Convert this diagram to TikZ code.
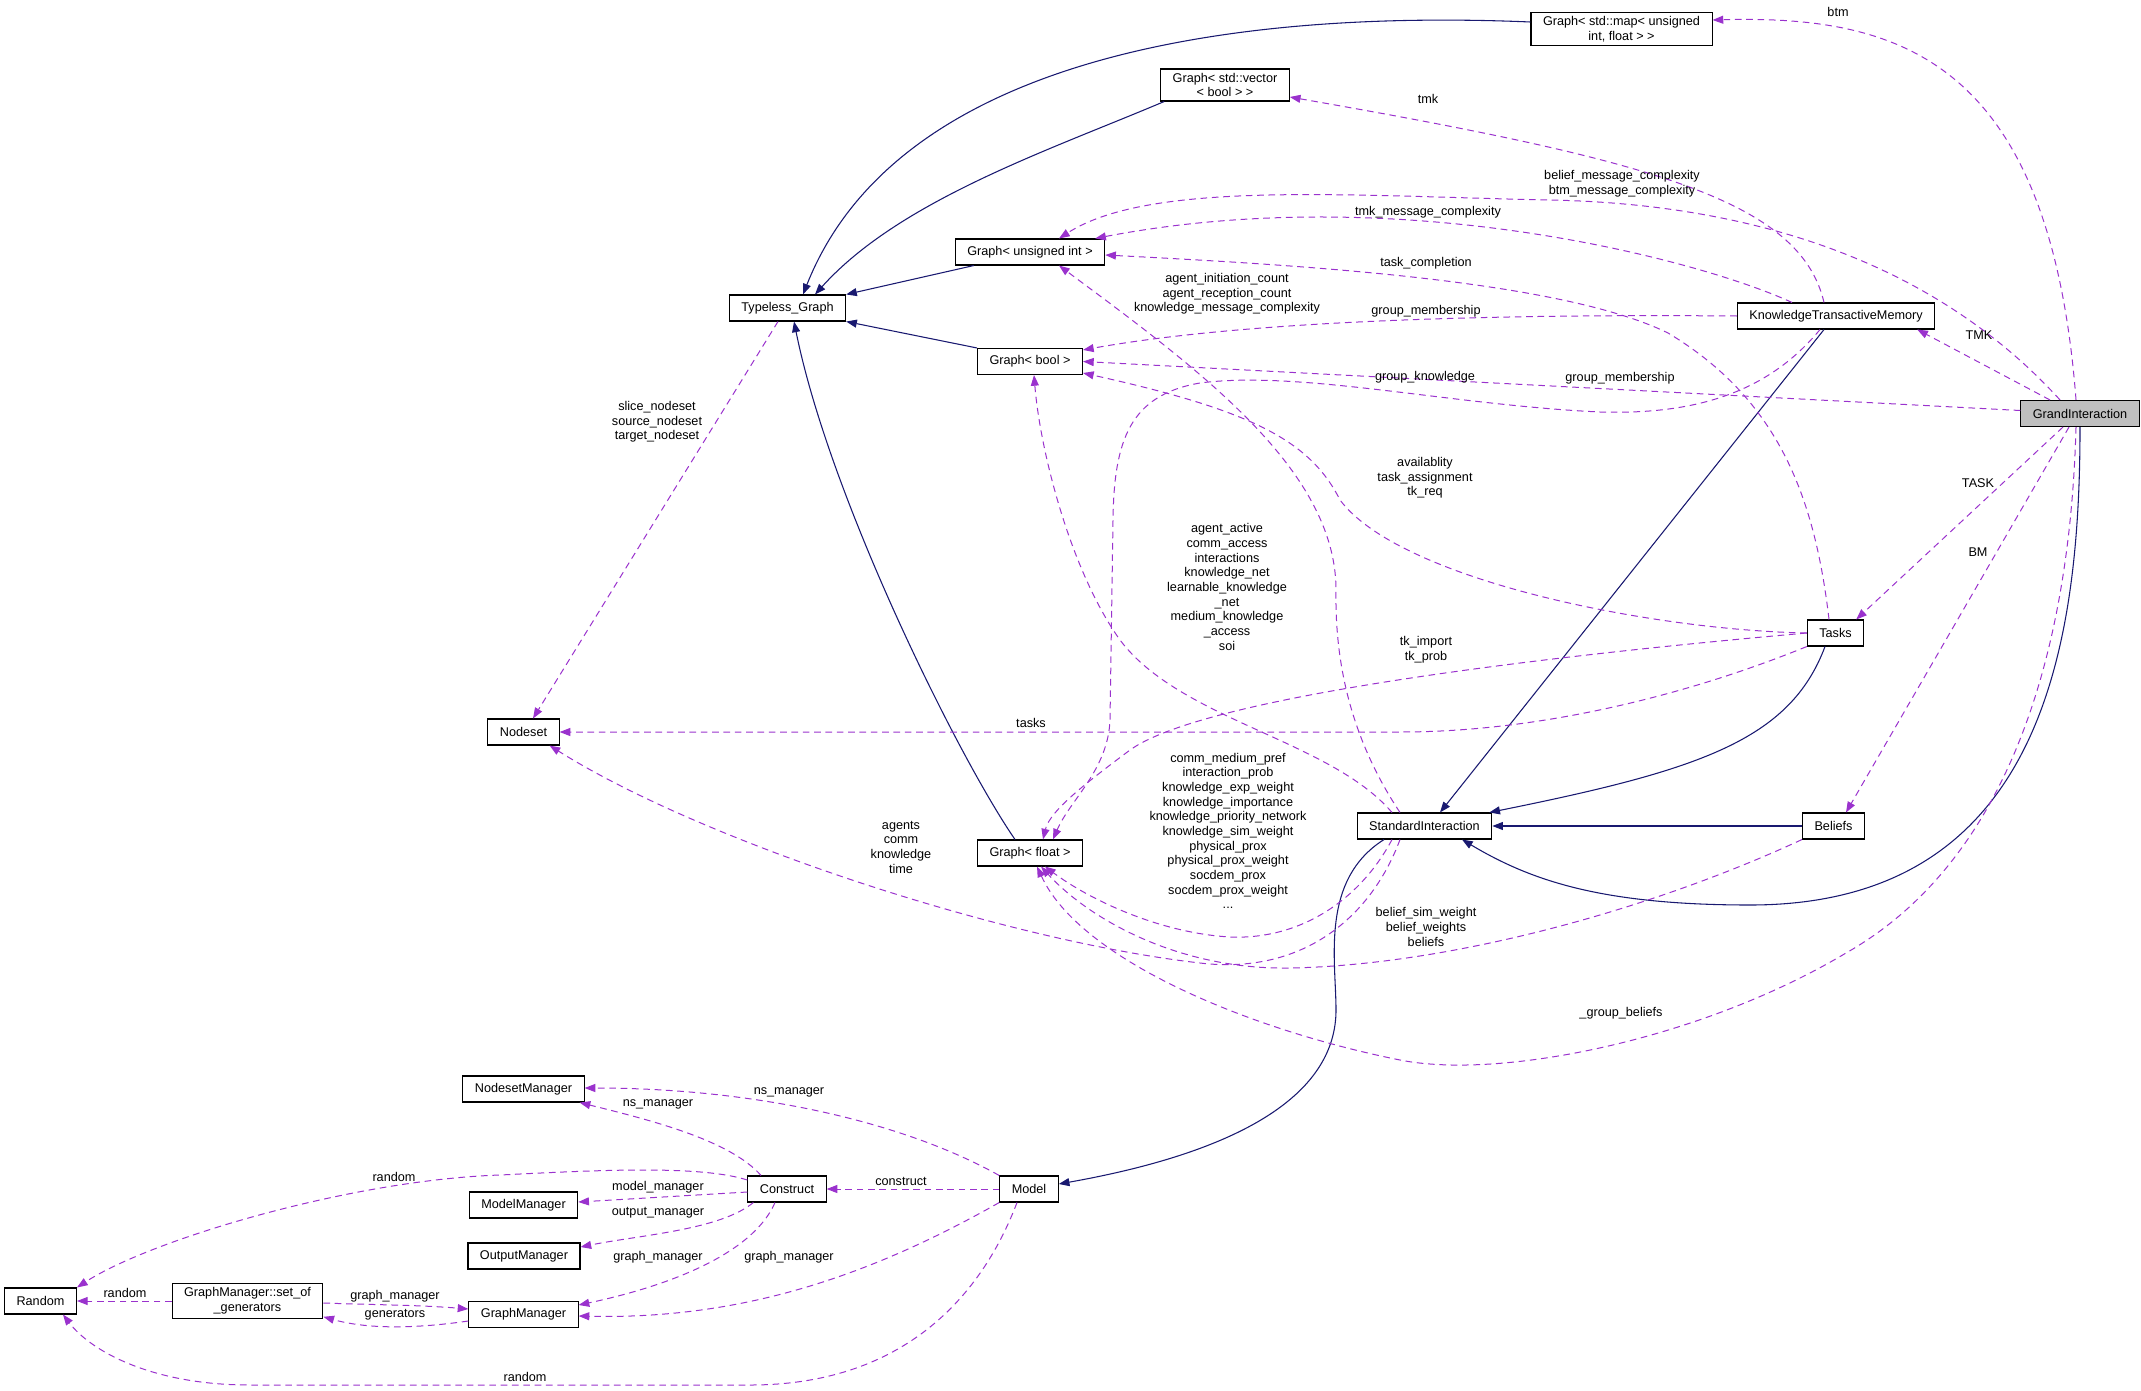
\documentclass[tikz,border=0pt]{standalone}
\usepackage{fontspec}
\setmainfont{Liberation Sans}
\usepackage{tikz}
\usetikzlibrary{arrows.meta}
\usetikzlibrary{calc}
\definecolor{navyedge}{HTML}{191970}
\definecolor{orchidedge}{HTML}{9A32CD}
\tikzset{
    cls/.style={draw=black, line width=0.8pt, fill=white, inner xsep=9pt, inner ysep=3pt, minimum height=19.5pt, align=center, font=\fontsize{9.5}{11}\selectfont},
    lbl/.style={inner sep=0pt, align=center, font=\fontsize{9.5}{11}\selectfont},
    inherit/.style={-{Triangle[length=8pt,width=6pt]}, color=navyedge, line width=0.8pt},
    member/.style={-{Triangle[length=8pt,width=6pt]}, color=orchidedge, line width=0.75pt, dash pattern=on 5pt off 3.5pt}
}

\begin{document}
\begin{tikzpicture}[x=0.75pt, y=-0.75pt]
    \useasboundingbox (0,0) rectangle (2141,1391);

    \node[cls] (gmap) at (1621.5,29) {Graph< std::map< unsigned\\int, float > >};
    \node[cls] (gvecbool) at (1225,85) {Graph< std::vector\\< bool > >};
    \node[cls] (guint) at (1030,252) {Graph< unsigned int >};
    \node[cls] (typeless) at (787.5,308) {Typeless\_Graph};
    \node[cls] (gbool) at (1030,361.5) {Graph< bool >};
    \node[cls] (ktm) at (1836,316) {KnowledgeTransactiveMemory};
    \node[cls, fill=black!25] (grand) at (2080,413.5) {GrandInteraction};
    \node[cls] (tasks) at (1835.5,633) {Tasks};
    \node[cls] (nodeset) at (523.5,732) {Nodeset};
    \node[cls] (gfloat) at (1030,853) {Graph< float >};
    \node[cls] (stdint) at (1424.5,826) {StandardInteraction};
    \node[cls] (beliefs) at (1833.5,826) {Beliefs};

    \node[cls] (nsmgr) at (523.5,1089) {NodesetManager};
    \node[cls] (modelmgr) at (523.5,1205) {ModelManager};
    \node[cls] (outmgr) at (524,1256) {OutputManager};
    \node[cls] (graphmgr) at (523.5,1314.5) {GraphManager};
    \node[cls] (construct) at (787,1189) {Construct};
    \node[cls] (model) at (1029,1189) {Model};
    \node[cls] (random) at (40.5,1301) {Random};
    \node[cls] (setgen) at (247.5,1301) {GraphManager::set\_of\\\_generators};

    \draw[inherit] ($(gmap.west)+(0,-7)$) .. controls (1250,10) and (900,50) .. ($(typeless.north)+(15.5,0)$);
    \draw[inherit] ($(gvecbool.south west)+(4,0)$) .. controls (1050,150) and (900,200) .. ($(typeless.north)+(27.5,0)$);
    \path[inherit] ($(guint.south west)+(19,0)$) edge (typeless.north east);
    \path[inherit] (gbool.north west) edge (typeless.south east);
    \draw[inherit] ($(gfloat.north)+(-15,0)$) .. controls (960,760) and (830,500) .. ($(typeless.south)+(6.5,0)$);
    \path[inherit] ($(ktm.south)+(-12,0)$) edge ($(stdint.north)+(15.5,0)$);
    \draw[inherit] ($(tasks.south)+(-10.5,0)$) .. controls (1790,740) and (1700,770) .. ($(stdint.north east)+(-3,0)$);
    \path[inherit] (beliefs) edge (stdint);
    \draw[inherit] (grand.south) .. controls (2080,650) and (2040,905) .. (1750,905) .. controls (1600,905) and (1530,880) .. ($(stdint.south)+(37.5,0)$);
    \draw[inherit] ($(stdint.south)+(-40.5,0)$) .. controls (1320,880) and (1336,960) .. (1336,1010) .. controls (1336,1090) and (1250,1150) .. ($(model.east)+(0,-5)$);

    \draw[member] ($(grand.north)+(-4,0)$) .. controls (2050,60) and (1900,15) .. ($(gmap.east)+(0,-9)$);
    \draw[member] ($(ktm.north)+(-12,0)$) .. controls (1800,200) and (1650,160) .. ($(gvecbool.east)+(0,12)$);
    \draw[member] ($(grand.north)+(-20,0)$) .. controls (1960,290) and (1800,205) .. (1550,200) .. controls (1350,196) and (1150,180) .. ($(guint.north)+(29,0)$);
    \draw[member] ($(ktm.north)+(-44,0)$) .. controls (1700,260) and (1400,180) .. ($(guint.north east)+(-10,0)$);
    \draw[member] ($(tasks.north)+(-6.5,0)$) .. controls (1815,500) and (1780,400) .. (1668,333) .. controls (1560,280) and (1300,265) .. ($(guint.east)+(0,3)$);
    \draw[member] ($(stdint.north)+(-24.5,0)$) .. controls (1345,730) and (1335,650) .. (1336,590) .. controls (1336,470) and (1200,370) .. ($(guint.south)+(29,0)$);
    \draw[member] (ktm.west) .. controls (1500,314) and (1250,320) .. ($(gbool.north east)+(0,2)$);
    \path[member] ($(grand.west)+(0,-3)$) edge (gbool.east);
    \draw[member] ($(ktm.south)+(-16,0)$) .. controls (1770,390) and (1700,415) .. (1600,412) .. controls (1450,405) and (1300,370) .. (1200,383) .. controls (1130,395) and (1114,440) .. (1113,520) -- (1110,720) .. controls (1108,770) and (1070,800) .. ($(gfloat.north)+(23,0)$);
    \path[member] ($(grand.north)+(-30,0)$) edge ($(ktm.south east)+(-18,0)$);
    \path[member] ($(grand.south)+(-17,0)$) edge ($(tasks.north east)+(-8,0)$);
    \path[member] ($(grand.south)+(-11,0)$) edge ($(beliefs.north)+(12.5,0)$);
    \draw[member] (tasks.west) .. controls (1650,630) and (1400,580) .. (1340,500) .. controls (1310,440) and (1250,410) .. ($(gbool.east)+(0,11.5)$);
    \draw[member] ($(stdint.north)+(-32.5,0)$) .. controls (1330,740) and (1180,720) .. (1120,640) .. controls (1070,570) and (1040,450) .. ($(gbool.south)+(4,0)$);
    \draw[member] (tasks.west) .. controls (1500,660) and (1200,700) .. (1130,750) .. controls (1090,780) and (1050,810) .. ($(gfloat.north)+(13,0)$);
    \draw[member] (tasks.south west) .. controls (1700,690) and (1550,732) .. (1400,732) -- (nodeset.east);
    \path[member] ($(typeless.south)+(-9.5,0)$) edge ($(nodeset.north)+(9.5,0)$);
    \draw[member] ($(stdint.south)+(-24.5,0)$) .. controls (1370,920) and (1300,975) .. (1200,963) .. controls (1000,940) and (700,840) .. ($(nodeset.south east)+(-10,0)$);
    \draw[member] ($(stdint.south)+(-32.5,0)$) .. controls (1360,900) and (1300,940) .. (1230,937) .. controls (1160,933) and (1090,900) .. ($(gfloat.south)+(15,0)$);
    \draw[member] (beliefs.south west) .. controls (1650,910) and (1450,965) .. (1290,968) .. controls (1180,970) and (1090,920) .. ($(gfloat.south)+(11,0)$);
    \draw[member] ($(grand.south)+(-4,0)$) .. controls (2070,650) and (2010,860) .. (1846,953) .. controls (1700,1040) and (1500,1080) .. (1400,1060) .. controls (1250,1030) and (1080,960) .. ($(gfloat.south)+(7,0)$);

    \draw[member] (model.north west) .. controls (900,1120) and (750,1088) .. ($(nsmgr.east)+(0,-1)$);
    \draw[member] ($(construct.north)+(-26,0)$) .. controls (730,1140) and (650,1120) .. ($(nsmgr.south east)+(-5,0)$);
    \draw[member] ($(construct.west)+(0,-9)$) .. controls (700,1165) and (600,1170) .. (500,1175) .. controls (350,1180) and (150,1240) .. (random.north east);
    \path[member] ($(construct.west)+(0,3)$) edge ($(modelmgr.east)+(0,-3)$);
    \draw[member] ($(construct.south west)+(6,0)$) .. controls (720,1230) and (640,1235) .. ($(outmgr.east)+(0,-9)$);
    \draw[member] ($(construct.south)+(-12,0)$) .. controls (750,1260) and (650,1290) .. ($(graphmgr.east)+(0,-9.5)$);
    \path[member] (model) edge (construct);
    \draw[member] (model.south west) .. controls (880,1270) and (750,1320) .. ($(graphmgr.east)+(0,1.5)$);
    \draw[member] ($(model.south)+(-12,0)$) .. controls (980,1300) and (900,1385) .. (750,1385) -- (250,1385) .. controls (150,1385) and (90,1350) .. ($(random.south)+(22.5,0)$);
    \path[member] (setgen) edge (random);
    \draw[member] ($(setgen.east)+(0,2)$) .. controls (380,1305) and (420,1305) .. ($(graphmgr.west)+(0,-5.5)$);
    \draw[member] ($(graphmgr.west)+(0,6.5)$) .. controls (420,1328) and (370,1330) .. ($(setgen.south east)+(0,-2)$);

    \node[lbl] (lbtm) at (1838,12) {btm};
    \node[lbl] (ltmk) at (1428,99) {tmk};
    \node[lbl] (lbtmmsg) at (1622,184) {belief\_message\_complexity\\btm\_message\_complexity};
    \node[lbl] (ltmkmsg) at (1428,212) {tmk\_message\_complexity};
    \node[lbl] (ltaskdone) at (1426,263) {task\_completion};
    \node[lbl] (lcounts) at (1227,294) {agent\_initiation\_count\\agent\_reception\_count\\knowledge\_message\_complexity};
    \node[lbl] (lmembera) at (1426,311) {group\_membership};
    \node[lbl] (lknowgrp) at (1425,377) {group\_knowledge};
    \node[lbl] (lmemberb) at (1620,378) {group\_membership};
    \node[lbl] (ltmkcap) at (1979,335) {TMK};
    \node[lbl] (lavail) at (1425,478) {availablity\\task\_assignment\\tk\_req};
    \node[lbl] (lactive) at (1227,587) {agent\_active\\comm\_access\\interactions\\knowledge\_net\\learnable\_knowledge\\\_net\\medium\_knowledge\\\_access\\soi};
    \node[lbl] (ltaskcap) at (1978,483) {TASK};
    \node[lbl] (lbm) at (1978,552) {BM};
    \node[lbl] (ltkimp) at (1426,650) {tk\_import\\tk\_prob};
    \node[lbl] (ltasks) at (1031,723) {tasks};
    \node[lbl] (lslice) at (657,422) {slice\_nodeset\\source\_nodeset\\target\_nodeset};
    \node[lbl] (lagents) at (901,847) {agents\\comm\\knowledge\\time};
    \node[lbl] (lcomm) at (1228,831) {comm\_medium\_pref\\interaction\_prob\\knowledge\_exp\_weight\\knowledge\_importance\\knowledge\_priority\_network\\knowledge\_sim\_weight\\physical\_prox\\physical\_prox\_weight\\socdem\_prox\\socdem\_prox\_weight\\...};
    \node[lbl] (lbelief) at (1426,927) {belief\_sim\_weight\\belief\_weights\\beliefs};
    \node[lbl] (lgrpbel) at (1621,1013) {\_group\_beliefs};

    \node[lbl] (lnsa) at (789,1092) {ns\_manager};
    \node[lbl] (lnsb) at (658,1104) {ns\_manager};
    \node[lbl] (lranda) at (394,1177) {random};
    \node[lbl] (lmodelmgr) at (658,1187) {model\_manager};
    \node[lbl] (loutmgr) at (658,1213) {output\_manager};
    \node[lbl] (lconstruct) at (901,1181) {construct};
    \node[lbl] (lgma) at (658,1257) {graph\_manager};
    \node[lbl] (lgmb) at (789,1257) {graph\_manager};
    \node[lbl] (lrandb) at (125,1293) {random};
    \node[lbl] (lgmc) at (395,1296) {graph\_manager};
    \node[lbl] (lgens) at (395,1315) {generators};
    \node[lbl] (lrandc) at (525,1377) {random};

\end{tikzpicture}
\end{document}
